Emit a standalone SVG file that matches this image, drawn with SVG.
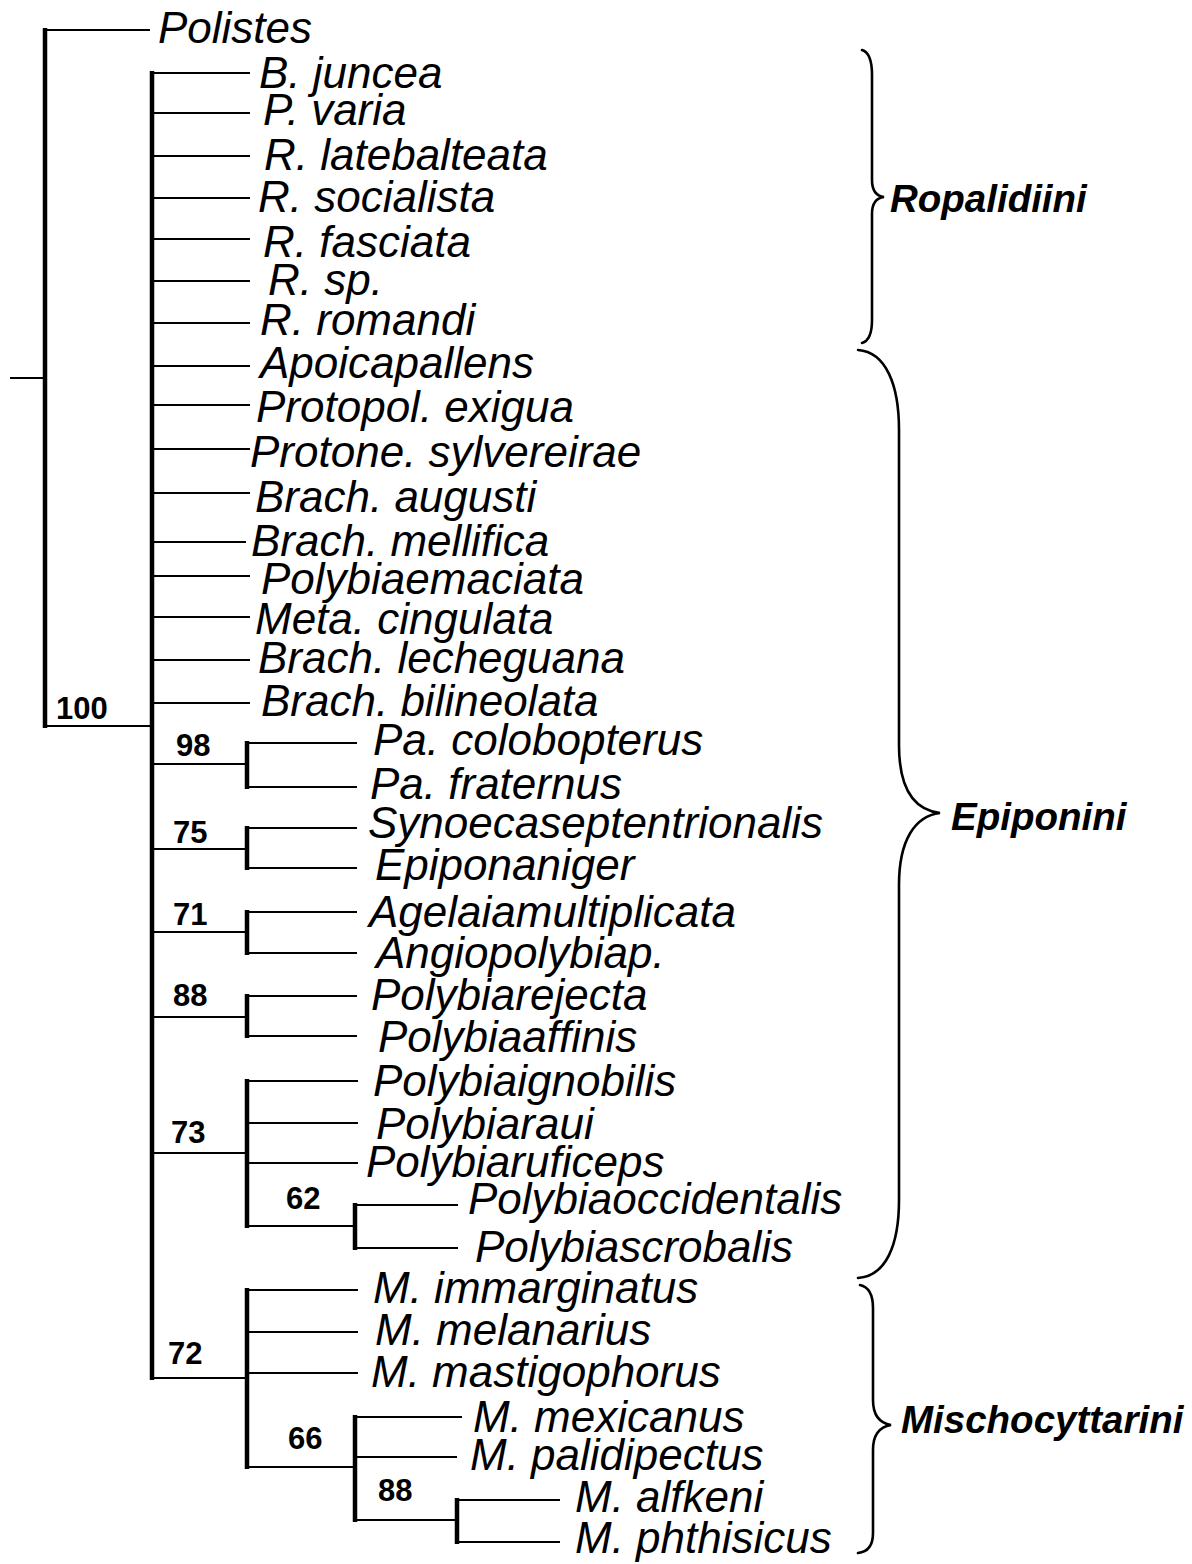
<svg xmlns="http://www.w3.org/2000/svg" width="1192" height="1564" viewBox="0 0 1192 1564">
<style>
.h{stroke:#000;stroke-width:2;fill:none}
.v{stroke:#000;stroke-width:4.5;fill:none}
.brace{stroke:#000;stroke-width:2.6;fill:none;stroke-linecap:round}
.t{font-family:"Liberation Sans",Arial,sans-serif;font-style:italic;font-size:44px;fill:#000}
.b{font-family:"Liberation Sans",Arial,sans-serif;font-weight:bold;font-size:31px;fill:#000}
.c{font-family:"Liberation Sans",Arial,sans-serif;font-weight:bold;font-style:italic;font-size:38.5px;fill:#000}
</style>
<rect width="1192" height="1564" fill="#fff"/>
<g id="connectors">
<line class="h" x1="10" y1="378" x2="45" y2="378"/>
<line class="v" x1="45" y1="28" x2="45" y2="728"/>
<line class="h" x1="45" y1="30" x2="150" y2="30"/>
<line class="h" x1="45" y1="726" x2="152" y2="726"/>
<line class="v" x1="152" y1="71" x2="152" y2="1380"/>
<line class="h" x1="152" y1="73" x2="250" y2="73"/>
<line class="h" x1="152" y1="113" x2="250" y2="113"/>
<line class="h" x1="152" y1="156" x2="250" y2="156"/>
<line class="h" x1="152" y1="198" x2="250" y2="198"/>
<line class="h" x1="152" y1="239" x2="250" y2="239"/>
<line class="h" x1="152" y1="281" x2="250" y2="281"/>
<line class="h" x1="152" y1="323" x2="250" y2="323"/>
<line class="h" x1="152" y1="366" x2="250" y2="366"/>
<line class="h" x1="152" y1="405" x2="250" y2="405"/>
<line class="h" x1="152" y1="449" x2="250" y2="449"/>
<line class="h" x1="152" y1="493" x2="250" y2="493"/>
<line class="h" x1="152" y1="542" x2="246" y2="542"/>
<line class="h" x1="152" y1="576" x2="250" y2="576"/>
<line class="h" x1="152" y1="617" x2="250" y2="617"/>
<line class="h" x1="152" y1="660" x2="250" y2="660"/>
<line class="h" x1="152" y1="703" x2="250" y2="703"/>
<line class="h" x1="152" y1="764" x2="247" y2="764"/>
<line class="v" x1="247" y1="741" x2="247" y2="789"/>
<line class="h" x1="247" y1="743" x2="357" y2="743"/>
<line class="h" x1="247" y1="787" x2="357" y2="787"/>
<line class="h" x1="152" y1="849" x2="247" y2="849"/>
<line class="v" x1="247" y1="826" x2="247" y2="870"/>
<line class="h" x1="247" y1="828" x2="357" y2="828"/>
<line class="h" x1="247" y1="868" x2="357" y2="868"/>
<line class="h" x1="152" y1="932" x2="247" y2="932"/>
<line class="v" x1="247" y1="910" x2="247" y2="955"/>
<line class="h" x1="247" y1="912" x2="357" y2="912"/>
<line class="h" x1="247" y1="953" x2="357" y2="953"/>
<line class="h" x1="152" y1="1017" x2="247" y2="1017"/>
<line class="v" x1="247" y1="994" x2="247" y2="1038"/>
<line class="h" x1="247" y1="996" x2="357" y2="996"/>
<line class="h" x1="247" y1="1036" x2="357" y2="1036"/>
<line class="h" x1="152" y1="1153" x2="247" y2="1153"/>
<line class="v" x1="247" y1="1079" x2="247" y2="1228"/>
<line class="h" x1="247" y1="1081" x2="358" y2="1081"/>
<line class="h" x1="247" y1="1123" x2="358" y2="1123"/>
<line class="h" x1="247" y1="1163" x2="358" y2="1163"/>
<line class="h" x1="247" y1="1226" x2="355" y2="1226"/>
<line class="v" x1="355" y1="1203" x2="355" y2="1250"/>
<line class="h" x1="355" y1="1205" x2="458" y2="1205"/>
<line class="h" x1="355" y1="1248" x2="458" y2="1248"/>
<line class="h" x1="152" y1="1378" x2="247" y2="1378"/>
<line class="v" x1="247" y1="1288" x2="247" y2="1469"/>
<line class="h" x1="247" y1="1290" x2="358" y2="1290"/>
<line class="h" x1="247" y1="1332" x2="358" y2="1332"/>
<line class="h" x1="247" y1="1373" x2="358" y2="1373"/>
<line class="h" x1="247" y1="1467" x2="355" y2="1467"/>
<line class="v" x1="355" y1="1415" x2="355" y2="1522"/>
<line class="h" x1="355" y1="1417" x2="462" y2="1417"/>
<line class="h" x1="355" y1="1457" x2="457" y2="1457"/>
<line class="h" x1="355" y1="1520" x2="457" y2="1520"/>
<line class="v" x1="457" y1="1498" x2="457" y2="1544"/>
<line class="h" x1="457" y1="1500" x2="560" y2="1500"/>
<line class="h" x1="457" y1="1542" x2="560" y2="1542"/>
</g>
<g id="taxa">
<text class="t" x="158" y="43">Polistes</text>
<text class="t" x="259" y="88">B. juncea</text>
<text class="t" x="263" y="125">P. varia</text>
<text class="t" x="264" y="170">R. latebalteata</text>
<text class="t" x="258" y="212">R. socialista</text>
<text class="t" x="263" y="257">R. fasciata</text>
<text class="t" x="268" y="295">R. sp.</text>
<text class="t" x="260" y="335">R. romandi</text>
<text class="t" x="260" y="378">Apoicapallens</text>
<text class="t" x="256" y="422">Protopol. exigua</text>
<text class="t" x="250" y="467">Protone. sylvereirae</text>
<text class="t" x="255" y="512">Brach. augusti</text>
<text class="t" x="251" y="556">Brach. mellifica</text>
<text class="t" x="261" y="594">Polybiaemaciata</text>
<text class="t" x="255" y="634">Meta. cingulata</text>
<text class="t" x="258" y="673">Brach. lecheguana</text>
<text class="t" x="261" y="716">Brach. bilineolata</text>
<text class="t" x="373" y="755">Pa. colobopterus</text>
<text class="t" x="370" y="799">Pa. fraternus</text>
<text class="t" x="368" y="838">Synoecaseptentrionalis</text>
<text class="t" x="375" y="880">Epiponaniger</text>
<text class="t" x="369" y="927">Agelaiamultiplicata</text>
<text class="t" x="376" y="968">Angiopolybiap.</text>
<text class="t" x="371" y="1010">Polybiarejecta</text>
<text class="t" x="378" y="1052">Polybiaaffinis</text>
<text class="t" x="373" y="1096">Polybiaignobilis</text>
<text class="t" x="376" y="1139">Polybiaraui</text>
<text class="t" x="366" y="1177">Polybiaruficeps</text>
<text class="t" x="468" y="1214">Polybiaoccidentalis</text>
<text class="t" x="475" y="1262">Polybiascrobalis</text>
<text class="t" x="373" y="1303">M. immarginatus</text>
<text class="t" x="375" y="1345">M. melanarius</text>
<text class="t" x="371" y="1387">M. mastigophorus</text>
<text class="t" x="473" y="1432">M. mexicanus</text>
<text class="t" x="470" y="1470">M. palidipectus</text>
<text class="t" x="575" y="1512">M. alfkeni</text>
<text class="t" x="575" y="1553">M. phthisicus</text>
</g>
<g id="support">
<text class="b" x="56" y="719">100</text>
<text class="b" x="176" y="756">98</text>
<text class="b" x="173" y="843">75</text>
<text class="b" x="173" y="925">71</text>
<text class="b" x="173" y="1006">88</text>
<text class="b" x="171" y="1143">73</text>
<text class="b" x="286" y="1209">62</text>
<text class="b" x="168" y="1364">72</text>
<text class="b" x="288" y="1449">66</text>
<text class="b" x="378" y="1501">88</text>
</g>
<g id="ropalidiini">
<path class="brace" d="M862,50 C869,52 872,60 872,75 L872,180 C872,191 876,196 884,197 C876,198 872,203 872,214 L872,320 C872,334 869,341 862,343"/>
<text class="c" x="890" y="212">Ropalidiini</text>
</g>
<g id="epiponini">
<path class="brace" d="M858,350 C886,352 899,385 899,430 L899,745 C899,790 915,810 940,813 C915,816 899,840 899,885 L899,1200 C899,1245 886,1276 858,1278"/>
<text class="c" x="951" y="830">Epiponini</text>
</g>
<g id="mischocyttarini">
<path class="brace" d="M860,1285 C869,1287 873,1295 873,1308 L873,1400 C873,1415 879,1423 891,1425 C879,1427 873,1435 873,1450 L873,1533 C873,1546 868,1552 858,1553"/>
<text class="c" x="901" y="1433">Mischocyttarini</text>
</g>
</svg>
